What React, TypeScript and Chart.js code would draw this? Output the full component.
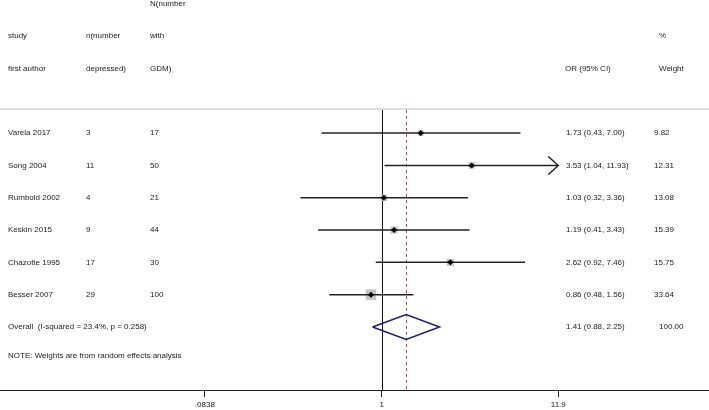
import React, { useEffect, useRef } from "react";
import { Chart, registerables } from "chart.js";

Chart.register(...registerables);

// ---- data ----
const studies = ["Varela 2017", "Song 2004", "Rumbold 2002", "Keskin 2015", "Chazotte 1995", "Besser 2007"];
const nDepressed = ["3", "11", "4", "9", "17", "29"];
const nGDM = ["17", "50", "21", "44", "30", "100"];
const orValues = [1.73, 3.53, 1.03, 1.19, 2.62, 0.86];
const ciLow = [0.43, 1.04, 0.32, 0.41, 0.92, 0.48];
const ciHigh = [7.0, 11.93, 3.36, 3.43, 7.46, 1.56];
const weights = [9.82, 12.31, 13.08, 15.39, 15.75, 33.64];
const ciLabels = ["1.73 (0.43, 7.00)", "3.53 (1.04, 11.93)", "1.03 (0.32, 3.36)", "1.19 (0.41, 3.43)", "2.62 (0.92, 7.46)", "0.86 (0.48, 1.56)"];
const weightLabels = ["9.82", "12.31", "13.08", "15.39", "15.75", "33.64"];

const overallOR = 1.41;
const overallLow = 0.88;
const overallHigh = 2.25;
const overallLabel = "Overall  (I-squared = 23.4%, p = 0.258)";
const overallCI = "1.41 (0.88, 2.25)";
const overallWeight = "100.00";
const noteText = "NOTE: Weights are from random effects analysis";

const xTicks = [0.0838, 1, 11.9];
const xTickLabels = [".0838", "1", "11.9"];

// ---- layout constants ----
const FONT = '8px "Liberation Sans", Arial, sans-serif';
const OVERALL_ROW = studies.length;
const NOTE_ROW = 6.9;
const SEP_ROW = -0.75;
const X_MIN = 0.004738;
const X_MAX = 98.48;
const axisMax = xTicks[xTicks.length - 1];

const headerCols = [
  { x: 8, rows: [[-3, "study"], [-2, "first author"]] },
  { x: 86, rows: [[-3, "n(number"], [-2, "depressed)"]] },
  { x: 150, rows: [[-4, "N(number"], [-3, "with"], [-2, "GDM)"]] },
  { x: 565, rows: [[-2, "OR (95% CI)"]] },
  { x: 659, rows: [[-3, "%"], [-2, "Weight"]] },
];

const forestPlugin = {
  id: "forest",
  beforeDatasetsDraw(chart: any) {
    const { ctx, scales, chartArea } = chart;
    const xs = scales.x, ys = scales.y;
    const sepY = ys.getPixelForValue(SEP_ROW);
    ctx.save();
    // header separator
    ctx.strokeStyle = "#d0d0d0";
    ctx.lineWidth = 1.5;
    ctx.beginPath();
    ctx.moveTo(0, sepY);
    ctx.lineTo(chart.width, sepY);
    ctx.stroke();
    // null line
    const x1 = Math.round(xs.getPixelForValue(1)) + 0.5;
    ctx.strokeStyle = "#111";
    ctx.lineWidth = 1;
    ctx.beginPath();
    ctx.moveTo(x1, sepY + 1);
    ctx.lineTo(x1, chartArea.bottom);
    ctx.stroke();
    // overall dashed
    const xo = Math.round(xs.getPixelForValue(overallOR)) + 0.5;
    ctx.strokeStyle = "#b04a4a";
    ctx.setLineDash([3, 3]);
    ctx.beginPath();
    ctx.moveTo(xo, sepY + 1);
    ctx.lineTo(xo, chartArea.bottom);
    ctx.stroke();
    ctx.restore();
  },
  afterDraw(chart: any) {
    const { ctx, scales } = chart;
    const xs = scales.x, ys = scales.y;
    ctx.save();
    ctx.font = FONT;
    ctx.fillStyle = "#222";
    ctx.textBaseline = "middle";
    ctx.textAlign = "left";
    headerCols.forEach((c) => {
      c.rows.forEach(([r, t]) => ctx.fillText(t as string, c.x, ys.getPixelForValue(r as number)));
    });
    studies.forEach((s, i) => {
      const y = ys.getPixelForValue(i);
      ctx.fillText(s, 8, y);
      ctx.fillText(nDepressed[i], 86, y);
      ctx.fillText(nGDM[i], 150, y);
      ctx.fillText(ciLabels[i], 566, y);
      ctx.fillText(weightLabels[i], 654, y);
    });
    const yo = ys.getPixelForValue(OVERALL_ROW);
    ctx.fillText(overallLabel, 8, yo);
    ctx.fillText(overallCI, 566, yo);
    ctx.fillText(overallWeight, 659, yo);
    ctx.fillText(noteText, 8, ys.getPixelForValue(NOTE_ROW));
    // arrows for truncated CIs
    ctx.strokeStyle = "#222";
    ctx.lineWidth = 1.5;
    studies.forEach((_, i) => {
      if (ciHigh[i] > axisMax) {
        const tip = xs.getPixelForValue(axisMax);
        const y = ys.getPixelForValue(i);
        ctx.beginPath();
        ctx.moveTo(tip - 10, y - 9);
        ctx.lineTo(tip, y);
        ctx.lineTo(tip - 10, y + 9);
        ctx.stroke();
      }
    });
    ctx.restore();
  },
};

export default function App() {
  const ref = useRef<HTMLCanvasElement>(null);
  useEffect(() => {
    if (!ref.current) return;
    const ciDatasets = studies.map((_, i) => ({
      type: "scatter" as const,
      data: [
        { x: ciLow[i], y: i },
        { x: Math.min(ciHigh[i], axisMax), y: i },
      ],
      showLine: true,
      borderColor: "#222",
      borderWidth: 1.5,
      pointRadius: 0,
      order: 1,
    }));
    const diamondH = 0.387;
    const chart = new Chart(ref.current, {
      type: "scatter",
      data: {
        datasets: [
          {
            data: orValues.map((v, i) => ({ x: v, y: i })),
            pointStyle: "rectRot",
            pointRadius: 3,
            backgroundColor: "#000",
            borderWidth: 0,
            order: 0,
          },
          ...ciDatasets,
          {
            data: orValues.map((v, i) => ({ x: v, y: i })),
            pointStyle: "rect",
            pointRadius: weights.map((w) => (10.5 * Math.sqrt(w / 33.64)) / Math.SQRT2),
            backgroundColor: "#c4c4c4",
            borderWidth: 0,
            order: 2,
          },
          {
            data: [
              { x: overallLow, y: OVERALL_ROW },
              { x: overallOR, y: OVERALL_ROW - diamondH },
              { x: overallHigh, y: OVERALL_ROW },
              { x: overallOR, y: OVERALL_ROW + diamondH },
              { x: overallLow, y: OVERALL_ROW },
            ],
            showLine: true,
            borderColor: "#1c1c78",
            borderWidth: 1.5,
            pointRadius: 0,
            fill: false,
            order: 1,
          },
        ] as any,
      },
      options: {
        animation: false,
        responsive: true,
        maintainAspectRatio: false,
        layout: { padding: 0, autoPadding: false },
        plugins: { legend: { display: false }, tooltip: { enabled: false } },
        scales: {
          x: {
            type: "logarithmic",
            min: X_MIN,
            max: X_MAX,
            bounds: "data",
            afterBuildTicks: (scale: any) => {
              scale.ticks = xTicks.map((v) => ({ value: v }));
            },
            afterFit: (scale: any) => {
              scale.height = 20;
            },
            grid: { drawOnChartArea: false, drawTicks: true, tickLength: 7, color: "#222", lineWidth: 1 },
            border: { display: true, color: "#222", width: 1 },
            ticks: {
              autoSkip: false,
              maxRotation: 0,
              padding: 3,
              color: "#222",
              font: { family: '"Liberation Sans", Arial, sans-serif', size: 8 },
              callback: (_v: any, i: number) => xTickLabels[i],
            },
          },
          y: {
            type: "linear",
            reverse: true,
            min: -4.12,
            max: 7.95,
            display: false,
          },
        },
      } as any,
      plugins: [forestPlugin],
    });
    return () => chart.destroy();
  }, []);
  return (
    <div style={{ position: "absolute", left: 0, top: 0, width: 709, height: 410, background: "#fff" }}>
      <canvas ref={ref} />
    </div>
  );
}
